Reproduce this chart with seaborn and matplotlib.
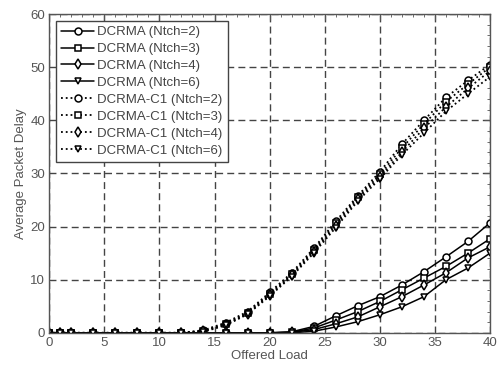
import numpy as np
import pandas as pd
import matplotlib
matplotlib.use("Agg")
import matplotlib.pyplot as plt
import seaborn as sns
from matplotlib.ticker import MultipleLocator

# Offered load sample points
load = [0, 1, 2, 4, 6, 8, 10, 12, 14, 16, 18, 20, 22, 24, 26, 28, 30, 32, 34, 36, 38, 40]

# DCRMA average packet delay
dcrma_n2 = [0, 0, 0, 0, 0, 0, 0, 0, 0, 0, 0, 0, 0.2, 1.2, 3.2, 5.1, 6.8, 9.0, 11.5, 14.3, 17.2, 20.7]
dcrma_n3 = [0, 0, 0, 0, 0, 0, 0, 0, 0, 0, 0, 0, 0.1, 0.9, 2.4, 4.0, 5.9, 8.1, 10.3, 12.5, 15.0, 17.7]
dcrma_n4 = [0, 0, 0, 0, 0, 0, 0, 0, 0, 0, 0, 0, 0.1, 0.6, 1.7, 3.0, 4.9, 6.8, 9.0, 11.3, 14.1, 16.2]
dcrma_n6 = [0, 0, 0, 0, 0, 0, 0, 0, 0, 0, 0, 0, 0.0, 0.3, 1.1, 2.1, 3.4, 4.9, 6.8, 10.0, 12.2, 15.0]

# DCRMA-C1 average packet delay
c1_n2 = [0, 0, 0, 0, 0, 0, 0, 0, 0.5, 1.9, 4.0, 7.6, 11.3, 15.9, 21.0, 25.8, 30.3, 35.5, 40.0, 44.3, 47.5, 50.5]
c1_n3 = [0, 0, 0, 0, 0, 0, 0, 0, 0.4, 1.7, 3.8, 7.3, 11.0, 15.6, 20.6, 25.5, 29.8, 34.8, 39.3, 43.5, 46.8, 50.0]
c1_n4 = [0, 0, 0, 0, 0, 0, 0, 0, 0.3, 1.5, 3.6, 7.1, 10.8, 15.3, 20.2, 25.2, 29.4, 34.0, 38.5, 42.5, 46.0, 49.3]
c1_n6 = [0, 0, 0, 0, 0, 0, 0, 0, 0.2, 1.4, 3.5, 6.9, 10.6, 15.0, 19.8, 24.8, 29.0, 33.5, 37.6, 41.7, 45.0, 48.2]

series = [
    ("DCRMA (Ntch=2)", dcrma_n2, "o", "-"),
    ("DCRMA (Ntch=3)", dcrma_n3, "s", "-"),
    ("DCRMA (Ntch=4)", dcrma_n4, "d", "-"),
    ("DCRMA (Ntch=6)", dcrma_n6, "v", "-"),
    ("DCRMA-C1 (Ntch=2)", c1_n2, "o", ":"),
    ("DCRMA-C1 (Ntch=3)", c1_n3, "s", ":"),
    ("DCRMA-C1 (Ntch=4)", c1_n4, "d", ":"),
    ("DCRMA-C1 (Ntch=6)", c1_n6, "v", ":"),
]

sns.set_theme(style="white")
plt.rcParams["font.family"] = ["Liberation Sans", "DejaVu Sans"]

fig = plt.figure(figsize=(4.97, 3.69), dpi=100)
ax = fig.add_axes([0.099, 0.098, 0.887, 0.864])

for name, vals, mk, ls in series:
    df = pd.DataFrame({"load": load, "delay": vals})
    sns.lineplot(data=df, x="load", y="delay", ax=ax, color="black",
                 linestyle=ls, linewidth=1.1 if ls == "-" else 1.3,
                 marker=mk, markersize=5, markerfacecolor="white",
                 markeredgecolor="black", markeredgewidth=1.1,
                 label=name)

ax.set_xlim(0, 40)
ax.set_ylim(0, 60)
ax.xaxis.set_major_locator(MultipleLocator(5))
ax.yaxis.set_major_locator(MultipleLocator(10))
ax.xaxis.set_minor_locator(MultipleLocator(1))
ax.yaxis.set_minor_locator(MultipleLocator(2))
ax.tick_params(which="both", direction="in", top=True, right=True,
               colors="#555555", labelcolor="#555555", labelsize=9.5)
ax.tick_params(which="major", length=4, width=0.8)
ax.tick_params(which="minor", length=2, width=0.6)
ax.tick_params(axis="x", pad=3)
ax.tick_params(axis="y", pad=3)

ax.grid(True, which="major", color="#444444", linestyle=(0, (5, 3)), linewidth=1.0)
for sp in ax.spines.values():
    sp.set_color("#555555")
    sp.set_linewidth(1.0)

ax.set_xlabel("Offered Load", fontsize=9.5, color="#555555", labelpad=1)
ax.set_ylabel("Average Packet Delay", fontsize=9.5, color="#555555", labelpad=2)

leg = ax.legend(loc="upper left", fontsize=9.5, frameon=True, fancybox=False,
                handlelength=2.5, handletextpad=0.25, labelspacing=0.36,
                borderpad=0.4, borderaxespad=0.5, labelcolor="#444444")
leg.get_frame().set_edgecolor("#444444")
leg.get_frame().set_linewidth(1.0)
leg.get_frame().set_alpha(1)

fig.savefig("out.png", dpi=100)
